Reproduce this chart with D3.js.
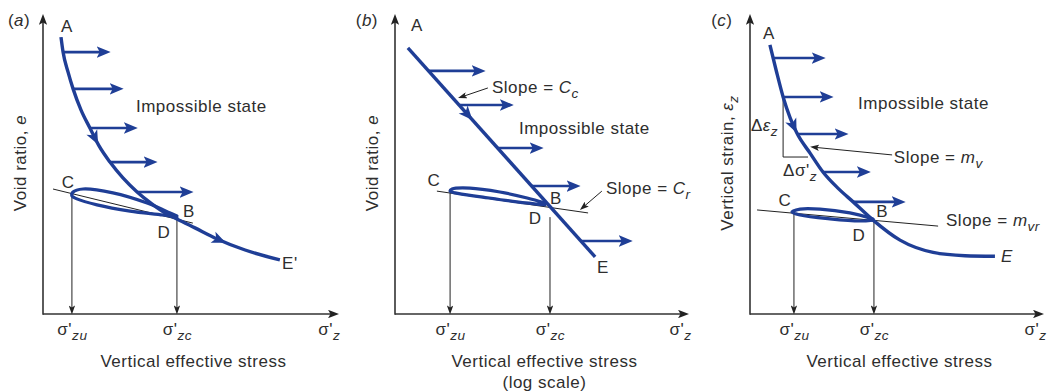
<!DOCTYPE html>
<html><head><meta charset="utf-8">
<script src="https://cdn.jsdelivr.net/npm/d3@7"></script>
<style>
body{margin:0;background:#fff}
svg text{font-family:"Liberation Sans",Arial,sans-serif;fill:#2e2e2e;letter-spacing:0.5px}
</style></head><body>
<svg id="chart" width="1055" height="391"></svg>
<script>
// ===== DATA (schematic units: 0..100 on each axis) =====
// Panel (a): void ratio vs effective stress
const curveA = [[6.1,92.6],[6.8,87.6],[8.5,80.9],[10.2,75.3],[12.9,68.2],[15.9,62.2],[19.0,56.2],[22.7,50.8],[27.1,45.5],[31.9,40.8],[36.9,36.8],[42.0,33.4],[45.4,31.8],[51.5,28.8],[59.0,25.1],[68.5,21.4],[80.3,18.1]];
const loopA = [[45.4,32.8],[43.1,33.8],[35.3,37.1],[23.7,40.5],[13.6,41.8],[10.2,40.8],[9.8,39.5],[11.5,38.5],[18.3,36.5],[29.5,34.4],[40.7,33.1],[45.4,32.4]];
const reboundA = [[3.4,41.8],[50.8,30.4]];
const pushA = [[6.8,87.6,22.7],[10.2,75.3,27.1],[15.9,62.2,31.9],[22.7,50.8,38.6],[31.9,40.8,50.8]]; // [xStart, y, xEnd]
const dropA = [[9.8,39.5],[45.4,31.8]];
const ticksA = [9.8,45.4,96.9];
const flowA = [0.32,0.81];

// Panel (b): void ratio vs log effective stress
const curveB = [[4.4,89.0],[68.3,19.1]];
const loopB = [[51.2,37.1],[45.1,38.8],[35.8,40.8],[25.6,42.1],[19.5,41.8],[18.8,41.1],[20.5,40.5],[30.0,39.1],[41.6,37.5],[51.2,36.5]];
const reboundB = [[14.3,41.1],[65.9,33.8]];
const pushB = [[11.5,81.3,30.7],[22.2,69.9,40.3],[35.0,55.5,50.5],[46.6,42.8,63.1],[63.4,24.4,80.9]];
const dropB = [[18.8,40.5],[52.9,32.4]];
const ticksB = [18.8,52.9,97.3];
const flowB = [0.32];
const pointersB = [[[31.7,75.6],[21.5,72.2]],[[70.6,41.1],[63.1,34.8]]];

// Panel (c): vertical strain vs effective stress
const curveC = [[6.8,90.0],[8.9,81.6],[11.3,72.6],[13.7,65.6],[16.0,60.5],[20.5,53.8],[24.9,47.5],[30.0,42.1],[35.2,37.5],[42.0,31.4],[51.2,24.7],[62.5,20.6],[73.4,19.5],[83.6,19.3]];
const loopC = [[42.0,31.8],[34.1,33.8],[23.9,35.1],[17.1,35.1],[14.3,34.1],[17.1,33.1],[27.3,31.8],[37.5,31.1],[42.0,31.4]];
const reboundC = [[2.4,34.8],[64.2,29.4]];
const pushC = [[7.5,85.6,25.6],[11.3,72.6,28.3],[16.0,60.2,33.4],[24.9,47.5,41.0],[35.2,37.5,52.9]];
const dropC = [[15.0,33.8],[42.3,31.1]];
const ticksC = [15.0,42.3,97.3];
const flowC = [0.25];
const pointersC = [[[48.5,53.2],[20.5,55.9]]];
const slopeTriC = [[11.3,72.6],[11.3,52.5],[19.8,52.5]];

// Tick labels (σ' + italic subscript)
const tickSubs = ["zu","zc","z"];

// Annotations: [parts, x, y, anchor]; parts kind n=normal, i=italic, s=italic subscript
const labelsA = [
  [[["(","n"],["a","i"],[")","n"]], -8.1, 98.3, "middle"],
  [[["A","n"]], 8.1, 96.3, "middle"],
  [[["Impossible state","n"]], 31.5, 69.6, "start"],
  [[["C","n"]], 8.5, 44.1, "middle"],
  [[["B","n"]], 49.5, 34.4, "middle"],
  [[["D","n"]], 41.0, 27.4, "middle"],
  [[["E'","n"]], 83.7, 17.1, "middle"]
];
const labelsB = [
  [[["(","n"],["b","i"],[")","n"]], -9.6, 98.3, "middle"],
  [[["A","n"]], 7.5, 96.7, "middle"],
  [[["Slope = ","n"],["C","i"],["c","s"]], 33.1, 75.9, "start"],
  [[["Impossible state","n"]], 42.3, 62.2, "start"],
  [[["C","n"]], 13.3, 44.8, "middle"],
  [[["B","n"]], 54.9, 38.8, "middle"],
  [[["D","n"]], 47.8, 32.1, "middle"],
  [[["E","n"]], 71.0, 15.7, "middle"],
  [[["Slope = ","n"],["C","i"],["r","s"]], 72.0, 42.1, "start"]
];
const labelsC = [
  [[["(","n"],["c","i"],[")","n"]], -9.6, 98.3, "middle"],
  [[["A","n"]], 6.5, 94.0, "middle"],
  [[["Impossible state","n"]], 36.9, 70.6, "start"],
  [[["Δ","n"],["ε","i"],["z","s"]], 0.3, 63.2, "start"],
  [[["Δσ'","n"],["z","s"]], 11.3, 48.2, "start"],
  [[["Slope = ","n"],["m","i"],["v","s"]], 49.1, 52.5, "start"],
  [[["C","n"]], 11.9, 38.1, "middle"],
  [[["B","n"]], 45.1, 34.4, "middle"],
  [[["D","n"]], 37.2, 26.4, "middle"],
  [[["E","i"]], 87.7, 19.4, "middle"],
  [[["Slope = ","n"],["m","i"],["vr","s"]], 66.9, 31.4, "start"]
];
const xTitles = [["Vertical effective stress"],["Vertical effective stress","(log scale)"],["Vertical effective stress"]];
const yTitles = [
  [["Void ratio, ","n"],["e","i"]],
  [["Void ratio, ","n"],["e","i"]],
  [["Vertical strain, ","n"],["ε","i"],["z","s"]]
];

// ===== LAYOUT =====
const BLUE = "#1f3e96", INK = "#2e2e2e";
const FS = 17;
const layout = [{x0:43,x1:338},{x0:395,x1:688},{x0:750,x1:1043}];
const yBottom = 314, yTop = 15;

const svg = d3.select("#chart");
const defs = svg.append("defs");
function mk(id, color, len, half){
  defs.append("marker").attr("id",id).attr("markerUnits","userSpaceOnUse")
    .attr("viewBox",`0 ${-half} ${len} ${2*half}`).attr("refX",len*0.45).attr("refY",0)
    .attr("markerWidth",len).attr("markerHeight",2*half).attr("orient","auto")
    .append("path").attr("d",`M0,${-half} L${len},0 L0,${half} L${len*0.22},0 Z`).attr("fill",color);
}
mk("pushHead", BLUE, 14, 5.8);
mk("axisHead", "#222", 11, 4.2);
mk("dropHead", "#222", 9, 3.2);

function rich(t, parts, size){
  parts.forEach(([s,k])=>{
    const ts = t.append("tspan").text(s);
    if(k==="i") ts.attr("font-style","italic");
    if(k==="s") ts.attr("font-style","italic").attr("font-size",size*0.8).attr("dy",size*0.28);
  });
}

const panels = [
  {curve:curveA, loop:loopA, rebound:reboundA, push:pushA, drop:dropA, ticks:ticksA, flow:flowA, pointers:[], labels:labelsA, tri:null},
  {curve:curveB, loop:loopB, rebound:reboundB, push:pushB, drop:dropB, ticks:ticksB, flow:flowB, pointers:pointersB, labels:labelsB, tri:null},
  {curve:curveC, loop:loopC, rebound:reboundC, push:pushC, drop:dropC, ticks:ticksC, flow:flowC, pointers:pointersC, labels:labelsC, tri:slopeTriC}
];

panels.forEach((p,i)=>{
  const L = layout[i];
  const x = d3.scaleLinear().domain([0,100]).range([L.x0, L.x1]);
  const y = d3.scaleLinear().domain([0,100]).range([yBottom, yTop]);
  const g = svg.append("g");
  const shorten = 5;

  // axes lines with arrowheads
  g.append("line").attr("x1",x(0)).attr("y1",y(0)).attr("x2",x(100)-shorten).attr("y2",y(0))
    .attr("stroke","#333").attr("stroke-width",1.6).attr("marker-end","url(#axisHead)");
  g.append("line").attr("x1",x(0)).attr("y1",y(0)+0.8).attr("x2",x(0)).attr("y2",y(100)+shorten)
    .attr("stroke","#333").attr("stroke-width",1.6).attr("marker-end","url(#axisHead)");

  // x-axis tick labels via d3 axis
  const ax = g.append("g").attr("transform",`translate(0,${yBottom})`)
    .call(d3.axisBottom(x).tickValues(p.ticks).tickSize(0).tickFormat(""));
  ax.select(".domain").remove();
  ax.selectAll(".tick text").each(function(d,k){
    const t = d3.select(this).attr("y",21).attr("dy",null).attr("font-size",FS).attr("fill","#3a3a3a")
      .attr("text-anchor","middle").style("font-family",'"Liberation Sans",Arial,sans-serif');
    t.text(null);
    rich(t, [["σ'","n"],[tickSubs[k],"s"]], FS);
  });

  // drop lines to x-axis
  p.drop.forEach(d=>{
    g.append("line").attr("x1",x(d[0])).attr("y1",y(d[1])).attr("x2",x(d[0])).attr("y2",y(0)-4.5)
      .attr("stroke","#222").attr("stroke-width",1).attr("marker-end","url(#dropHead)");
  });

  // rebound slope line
  g.append("line").attr("x1",x(p.rebound[0][0])).attr("y1",y(p.rebound[0][1]))
    .attr("x2",x(p.rebound[1][0])).attr("y2",y(p.rebound[1][1]))
    .attr("stroke","#222").attr("stroke-width",1);

  // slope triangle
  if(p.tri){
    g.append("path").attr("d",d3.line().x(d=>x(d[0])).y(d=>y(d[1]))(p.tri))
      .attr("fill","none").attr("stroke","#222").attr("stroke-width",1);
  }

  const loopLine = d3.line().x(d=>x(d[0])).y(d=>y(d[1])).curve(d3.curveCatmullRom.alpha(0.5));
  const mainLine = d3.line().x(d=>x(d[0])).y(d=>y(d[1])).curve(d3.curveMonotoneX);
  // unload/reload loop
  g.append("path").attr("d",loopLine(p.loop)).attr("fill","none").attr("stroke",BLUE)
    .attr("stroke-width",3.2).attr("stroke-linecap","round").attr("stroke-linejoin","round");
  // virgin curve
  const cp = g.append("path").attr("d",mainLine(p.curve)).attr("fill","none").attr("stroke",BLUE)
    .attr("stroke-width",3.4).attr("stroke-linecap","butt");
  const node = cp.node(), total = node.getTotalLength();
  p.flow.forEach(f=>{
    const a = node.getPointAtLength(f*total), b = node.getPointAtLength(f*total+2);
    const ang = Math.atan2(b.y-a.y, b.x-a.x)*180/Math.PI;
    g.append("path").attr("d","M7,0 L-7,-6 L-3.5,0 L-7,6 Z").attr("fill",BLUE)
      .attr("transform",`translate(${a.x},${a.y}) rotate(${ang})`);
  });

  // "impossible state" push arrows
  p.push.forEach(d=>{
    g.append("line").attr("x1",x(d[0])).attr("y1",y(d[1])).attr("x2",x(d[2])-7).attr("y2",y(d[1]))
      .attr("stroke",BLUE).attr("stroke-width",2.6).attr("marker-end","url(#pushHead)");
  });

  // pointer arrows
  p.pointers.forEach(d=>{
    const x1=x(d[0][0]), y1=y(d[0][1]), x2=x(d[1][0]), y2=y(d[1][1]);
    const len=Math.hypot(x2-x1,y2-y1), ux=(x2-x1)/len, uy=(y2-y1)/len;
    g.append("line").attr("x1",x1).attr("y1",y1).attr("x2",x2-ux*5).attr("y2",y2-uy*5)
      .attr("stroke","#222").attr("stroke-width",1).attr("marker-end","url(#dropHead)");
  });

  // annotations
  p.labels.forEach(([parts,u,v,anchor])=>{
    const t = g.append("text").attr("x",x(u)).attr("y",y(v)+6).attr("text-anchor",anchor).attr("font-size",FS);
    rich(t, parts, FS);
  });

  // axis titles
  xTitles[i].forEach((s,k)=>{
    g.append("text").attr("x",x(51)).attr("y",367+k*21).attr("text-anchor","middle").attr("font-size",FS).text(s);
  });
  const yt = g.append("text").attr("transform",`translate(${x(0)-17},${y(50.5)}) rotate(-90)`)
    .attr("text-anchor","middle").attr("font-size",FS);
  rich(yt, yTitles[i], FS);
});
</script>
</body></html>
